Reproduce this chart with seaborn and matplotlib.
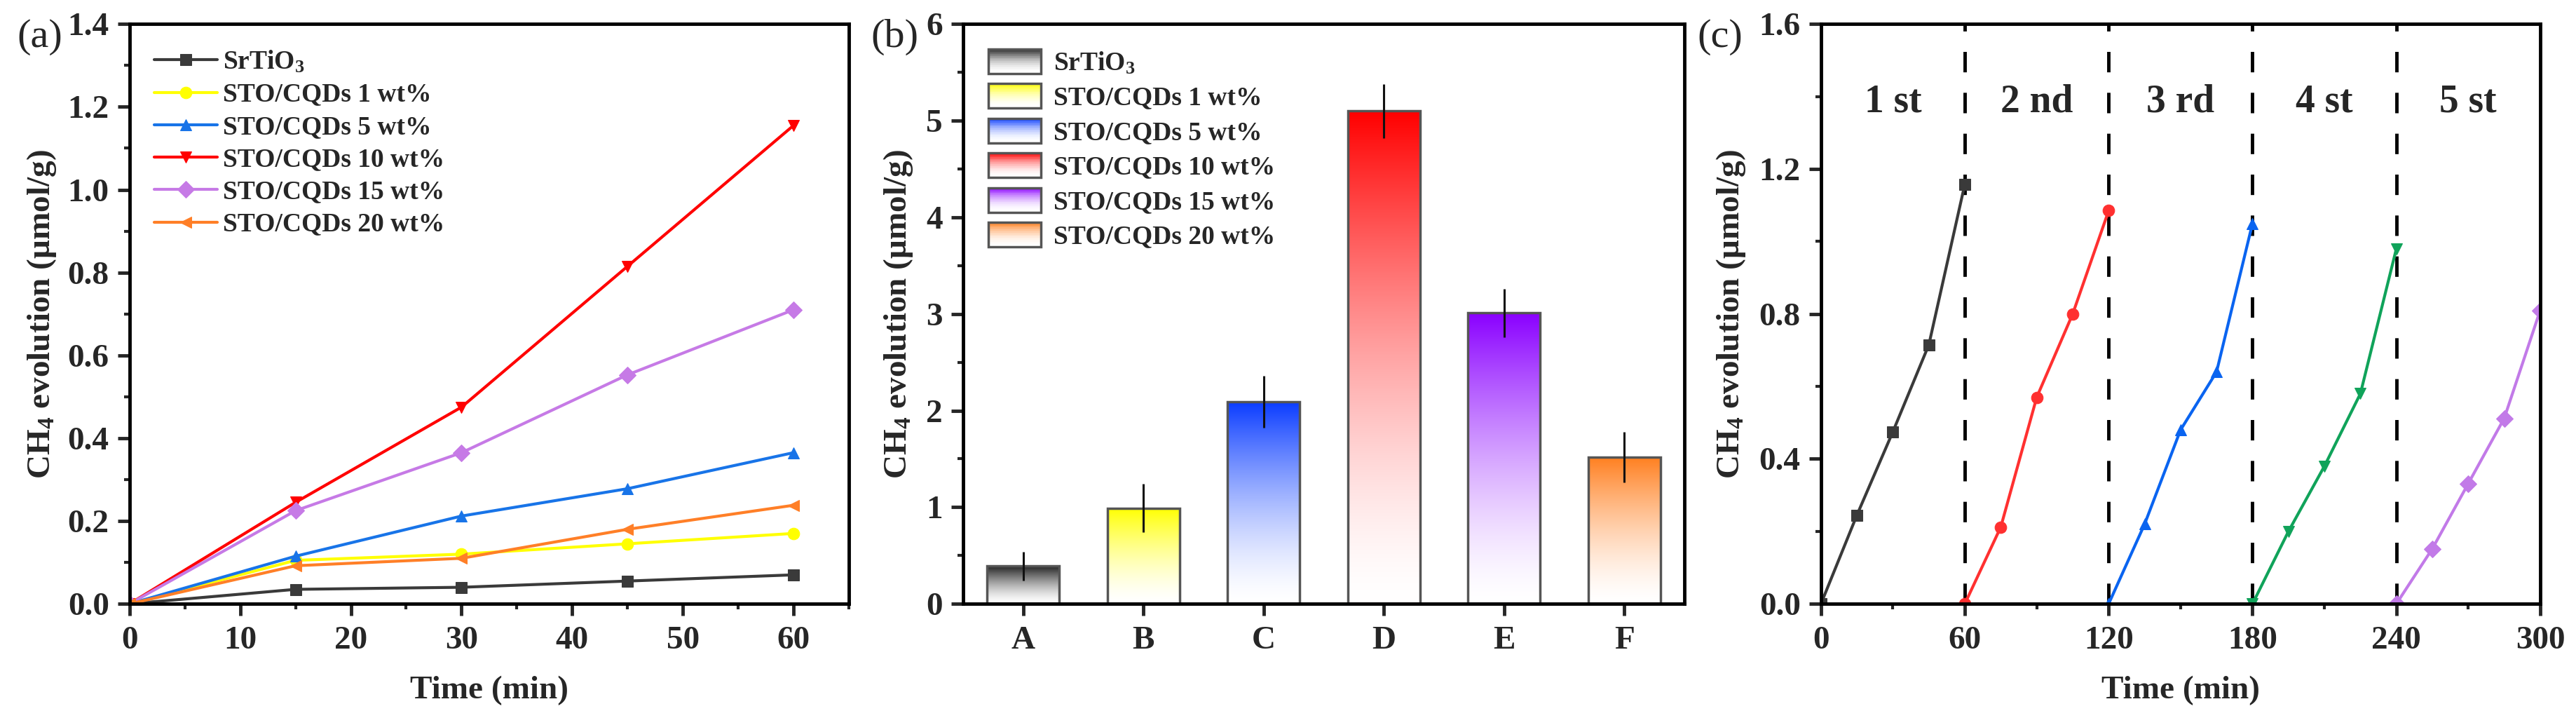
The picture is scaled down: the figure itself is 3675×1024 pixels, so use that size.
import numpy as np
import matplotlib
matplotlib.use("Agg")
import matplotlib.pyplot as plt
import seaborn as sns
from matplotlib.legend_handler import HandlerBase
from matplotlib.patches import Rectangle
from matplotlib.ticker import MultipleLocator, FormatStrFormatter
from matplotlib.colors import to_rgb

# ---- data -------------------------------------------------------------
time_min = [0, 15, 30, 45, 60]
samples = ["SrTiO$_3$", "STO/CQDs 1 wt%", "STO/CQDs 5 wt%",
           "STO/CQDs 10 wt%", "STO/CQDs 15 wt%", "STO/CQDs 20 wt%"]

ch4_srtio3 = [0, 0.035, 0.040, 0.055, 0.070]
ch4_1wt = [0, 0.105, 0.120, 0.145, 0.170]
ch4_5wt = [0, 0.115, 0.212, 0.278, 0.365]
ch4_10wt = [0, 0.245, 0.475, 0.815, 1.155]
ch4_15wt = [0, 0.225, 0.365, 0.553, 0.710]
ch4_20wt = [0, 0.092, 0.110, 0.180, 0.238]
ch4_series = [ch4_srtio3, ch4_1wt, ch4_5wt, ch4_10wt, ch4_15wt, ch4_20wt]

line_colors = ["#3a3a3a", "#ffff00", "#1874e8", "#ff0000", "#c67ae6", "#ff7f27"]
line_markers = ["s", "o", "^", "v", "D", "<"]

bar_cats = ["A", "B", "C", "D", "E", "F"]
bar_vals = [0.39, 0.99, 2.09, 5.10, 3.01, 1.52]
bar_errs = [0.15, 0.25, 0.27, 0.28, 0.25, 0.26]
bar_colors = ["#222222", "#ffff00", "#0a3cff", "#ff0000", "#8a00ff", "#ff7f1f"]

cycle_labels = ["1 st", "2 nd", "3 rd", "4 st", "5 st"]
cycle_times = [[0, 15, 30, 45, 60],
               [60, 75, 90, 105, 120],
               [120, 135, 150, 165, 180],
               [180, 195, 210, 225, 240],
               [240, 255, 270, 285, 300]]
cycle_vals = [[0, 0.245, 0.475, 0.715, 1.158],
              [0, 0.212, 0.570, 0.800, 1.085],
              [0, 0.220, 0.480, 0.640, 1.050],
              [0, 0.200, 0.380, 0.580, 0.980],
              [0, 0.152, 0.332, 0.512, 0.810]]
cycle_colors = ["#3a3a3a", "#ff3030", "#0a64f0", "#10a35a", "#c27ae8"]
cycle_markers = ["s", "o", "^", "v", "D"]

ylab = "CH$_4$ evolution (μmol/g)"

# ---- style ------------------------------------------------------------
sns.set_theme(style="ticks")
plt.rcParams.update({
    "font.family": ["Liberation Serif", "DejaVu Serif"],
    "font.weight": "bold",
    "axes.labelweight": "bold",
    "mathtext.fontset": "custom",
    "mathtext.rm": "Liberation Serif:bold",
    "mathtext.bf": "Liberation Serif:bold",
    "mathtext.it": "Liberation Serif:bold:italic",
    "mathtext.default": "bf",
    "axes.linewidth": 3.5,
    "axes.edgecolor": "black",
    "xtick.direction": "out",
    "ytick.direction": "out",
    "xtick.major.size": 12, "ytick.major.size": 12,
    "xtick.minor.size": 6, "ytick.minor.size": 6,
    "xtick.major.width": 3.5, "ytick.major.width": 3.5,
    "xtick.minor.width": 3, "ytick.minor.width": 3,
    "xtick.major.pad": 11, "ytick.major.pad": 9,
    "xtick.labelsize": 34, "ytick.labelsize": 34,
    "axes.labelsize": 34,
})

fig = plt.figure(figsize=(36.75, 10.24), dpi=100)
ax1 = fig.add_axes([0.0503, 0.159, 0.2792, 0.8075])
ax2 = fig.add_axes([0.3739, 0.159, 0.2800, 0.8075])
ax3 = fig.add_axes([0.7069, 0.159, 0.2792, 0.8075])


def finish(ax, ylx):
    ax.set_ylabel(ylab, va="center")
    ax.yaxis.set_label_coords(ylx, 0.5)
    ax.xaxis.set_label_coords(0.5, -0.15)
    for s in ax.spines.values():
        s.set_linewidth(3.5)
        s.set_color("black")


# ---- (a) time course -------------------------------------------------
for vals, lbl, c, m in zip(ch4_series, samples, line_colors, line_markers):
    sns.lineplot(x=time_min, y=vals, color=c, marker=m, markersize=12,
                 markeredgecolor=c, linewidth=3, label=lbl, ax=ax1)
ax1.set_xlim(0, 65)
ax1.set_ylim(0, 1.4)
ax1.xaxis.set_major_locator(MultipleLocator(10))
ax1.xaxis.set_minor_locator(MultipleLocator(5))
ax1.yaxis.set_major_locator(MultipleLocator(0.2))
ax1.yaxis.set_minor_locator(MultipleLocator(0.1))
ax1.yaxis.set_major_formatter(FormatStrFormatter("%.1f"))
ax1.set_xlabel("Time (min)", va="center")
finish(ax1, -0.122)
ax1.legend(loc="upper left", bbox_to_anchor=(0.02, 0.975), frameon=False,
           fontsize=27, handlelength=2.4, handletextpad=0.2,
           labelspacing=0.3, borderaxespad=0)

# ---- (b) bars with gradient fill -------------------------------------
sns.barplot(x=bar_cats, y=bar_vals, hue=bar_cats, palette=bar_colors,
            width=0.6, edgecolor="#555555", linewidth=2.5, errorbar=None,
            legend=False, ax=ax2)


def gradient(color, n=256, power=1.5):
    frac = np.linspace(0, 1, n)[:, None, None] ** power
    c = np.array(to_rgb(color))[None, None, :]
    return (1 - frac) * 1.0 + frac * c


bars = list(ax2.patches)
for p, c in zip(bars, bar_colors):
    x0, y0 = p.get_x(), p.get_y()
    ax2.imshow(gradient(c), extent=[x0, x0 + p.get_width(), y0, y0 + p.get_height()],
               origin="lower", aspect="auto", interpolation="bilinear",
               zorder=p.get_zorder() - 0.1)
    p.set_facecolor("none")
ax2.errorbar(x=list(range(len(bar_cats))), y=bar_vals, yerr=bar_errs,
             fmt="none", ecolor="#111111", elinewidth=2.2, capsize=0, zorder=4)
ax2.set_xlim(-0.5, 5.5)
ax2.set_ylim(0, 6)
ax2.yaxis.set_major_locator(MultipleLocator(1))
ax2.yaxis.set_minor_locator(MultipleLocator(0.5))
ax2.set_xlabel("")
finish(ax2, -0.09)


class GradientHandler(HandlerBase):
    def __init__(self, color):
        super().__init__()
        self.color = color

    def create_artists(self, legend, orig_handle, xdescent, ydescent,
                       width, height, fontsize, trans):
        arts = []
        n = 24
        c = np.array(to_rgb(self.color))
        for i in range(n):
            f = ((i + 0.5) / n) ** 2
            fc = (1 - f) * 1.0 + f * c
            arts.append(Rectangle((-xdescent, -ydescent + i * height / n),
                                  width, height / n * 1.05, facecolor=fc,
                                  edgecolor="none", transform=trans))
        arts.append(Rectangle((-xdescent, -ydescent), width, height,
                              facecolor="none", edgecolor="#555555", lw=2.5,
                              transform=trans))
        return arts


ax2.legend(bars, samples, handler_map={p: GradientHandler(c) for p, c in zip(bars, bar_colors)},
           loc="upper left", bbox_to_anchor=(0.02, 0.975), frameon=False,
           fontsize=27, handlelength=2.0, handleheight=1.05, handletextpad=0.5,
           labelspacing=0.3, borderaxespad=0)

# ---- (c) recycling ---------------------------------------------------
for t, v, c, m in zip(cycle_times, cycle_vals, cycle_colors, cycle_markers):
    sns.lineplot(x=t, y=v, color=c, marker=m, markersize=12,
                 markeredgecolor=c, linewidth=3, ax=ax3)
for t in cycle_times[:-1]:
    ax3.axvline(t[-1], color="black", linestyle=(0, (6, 6)), linewidth=3.5, zorder=1)
for t, lbl in zip(cycle_times, cycle_labels):
    ax3.text(np.mean(t), 1.385, lbl, ha="center", va="center", fontsize=40)
ax3.set_xlim(0, 300)
ax3.set_ylim(0, 1.6)
ax3.xaxis.set_major_locator(MultipleLocator(60))
ax3.xaxis.set_minor_locator(MultipleLocator(30))
ax3.yaxis.set_major_locator(MultipleLocator(0.4))
ax3.yaxis.set_minor_locator(MultipleLocator(0.2))
ax3.yaxis.set_major_formatter(FormatStrFormatter("%.1f"))
ax3.set_xlabel("Time (min)", va="center")
finish(ax3, -0.125)

# panel letters
for xf, lbl in zip([0.0065, 0.338, 0.659], ["(a)", "(b)", "(c)"]):
    fig.text(xf, 1 - 53 / 1024, lbl, ha="left", va="center",
             fontsize=42, fontweight="normal")

fig.savefig("out.png", dpi=100)
